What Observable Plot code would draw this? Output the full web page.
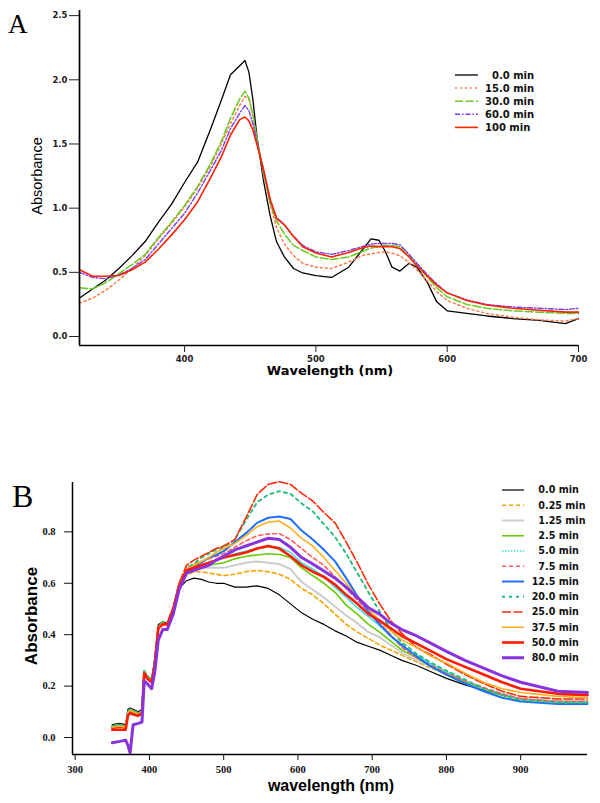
<!DOCTYPE html>
<html><head><meta charset="utf-8">
<script src="https://cdn.jsdelivr.net/npm/d3@7"></script>
<script src="https://cdn.jsdelivr.net/npm/@observablehq/plot@0.6"></script>
<style>
html,body{margin:0;padding:0;background:#fff;}
#page{position:relative;width:600px;height:803px;overflow:hidden;background:#fff;}
#pa{position:absolute;left:0;top:0;}
#pb{position:absolute;left:0;top:470px;}
#ov{position:absolute;left:0;top:0;pointer-events:none;}
#pa text{font-weight:bold;fill:#222;}
#pb text{font-weight:bold;fill:#111;}
</style></head><body>
<div id="page"><div id="pa"></div><div id="pb"></div><svg id="ov" width="600" height="803"></svg></div>
<script>
// ---------- Panel A data ----------
const A_wl = [320,330,340,350,360,370,380,390,400,410,420,428,435,442,446,449,452,455,460,465,470,476,483,490,500,512,525,535,542,548,553,558,564,571,577,585,592,600,615,630,650,670,690,700];
const A_t0   = [0.30,0.37,0.44,0.53,0.63,0.74,0.89,1.03,1.20,1.36,1.62,1.84,2.04,2.11,2.15,2.06,1.85,1.57,1.22,0.95,0.74,0.62,0.53,0.495,0.475,0.46,0.54,0.67,0.76,0.75,0.66,0.54,0.51,0.57,0.54,0.42,0.27,0.20,0.18,0.16,0.14,0.125,0.10,0.14];
const A_t15  = [0.26,0.30,0.36,0.44,0.53,0.63,0.76,0.88,1.01,1.16,1.33,1.50,1.66,1.80,1.87,1.85,1.72,1.55,1.27,1.04,0.85,0.72,0.63,0.57,0.54,0.53,0.58,0.63,0.645,0.655,0.66,0.65,0.63,0.575,0.52,0.43,0.35,0.28,0.22,0.18,0.15,0.13,0.12,0.14];
const A_t30  = [0.38,0.37,0.42,0.49,0.56,0.64,0.77,0.89,1.02,1.17,1.35,1.52,1.70,1.85,1.91,1.86,1.73,1.55,1.28,1.05,0.90,0.80,0.71,0.67,0.62,0.60,0.62,0.66,0.69,0.70,0.71,0.71,0.70,0.64,0.56,0.46,0.38,0.31,0.25,0.22,0.20,0.19,0.18,0.18];
const A_t60  = [0.50,0.46,0.45,0.48,0.53,0.60,0.72,0.84,0.96,1.12,1.30,1.45,1.62,1.74,1.80,1.76,1.66,1.52,1.30,1.07,0.93,0.87,0.78,0.71,0.66,0.64,0.67,0.70,0.72,0.725,0.725,0.725,0.715,0.64,0.57,0.48,0.41,0.34,0.285,0.25,0.23,0.22,0.21,0.22];
const A_t100 = [0.52,0.47,0.47,0.475,0.52,0.58,0.68,0.79,0.91,1.05,1.24,1.40,1.57,1.69,1.71,1.68,1.61,1.50,1.31,1.075,0.92,0.87,0.78,0.70,0.65,0.62,0.655,0.69,0.705,0.70,0.70,0.70,0.685,0.62,0.55,0.47,0.40,0.34,0.28,0.245,0.22,0.205,0.19,0.19];
const A_names = ["\u20070.0 min","15.0 min","30.0 min","60.0 min","100 min"];
const A_xTicks = [400,500,600,700];
const A_yTicks = [0,0.5,1,1.5,2,2.5];

// ---------- Panel B data ----------
const B_wl = [350,360,368,371,374,378,385,390,393,397,403,407,412,418,424,432,440,450,460,470,480,490,500,515,530,545,560,575,590,605,620,635,650,665,680,695,710,725,740,760,780,800,825,850,875,900,950,990];
const B_t0    = [0.05,0.055,0.05,0.11,0.115,0.11,0.10,0.11,0.26,0.24,0.225,0.30,0.44,0.45,0.445,0.50,0.58, 0.61,0.62,0.615,0.605,0.60,0.60,0.585,0.585,0.59,0.58,0.555,0.52,0.485,0.46,0.44,0.415,0.395,0.37,0.355,0.34,0.32,0.30,0.28,0.255,0.23,0.205,0.185,0.165,0.15,0.14,0.14];
const B_t025  = [0.045,0.05,0.045,0.10,0.11,0.105,0.095,0.105,0.255,0.235,0.22,0.29,0.43,0.445,0.44,0.50,0.59, 0.63,0.645,0.645,0.64,0.635,0.63,0.635,0.645,0.65,0.645,0.635,0.615,0.58,0.555,0.52,0.48,0.44,0.41,0.385,0.36,0.34,0.32,0.295,0.27,0.245,0.215,0.19,0.165,0.15,0.14,0.14];
const B_t125  = [0.04,0.045,0.04,0.095,0.105,0.10,0.09,0.10,0.255,0.235,0.22,0.29,0.43,0.445,0.44,0.50,0.59, 0.64,0.655,0.66,0.66,0.66,0.66,0.67,0.68,0.685,0.68,0.675,0.655,0.605,0.575,0.545,0.51,0.475,0.445,0.41,0.39,0.36,0.33,0.30,0.275,0.245,0.215,0.19,0.17,0.15,0.14,0.14];
const B_t25   = [0.045,0.05,0.045,0.10,0.105,0.10,0.095,0.10,0.255,0.235,0.22,0.29,0.43,0.445,0.44,0.50,0.595, 0.645,0.655,0.665,0.67,0.675,0.68,0.695,0.705,0.71,0.715,0.712,0.70,0.66,0.63,0.60,0.565,0.515,0.48,0.44,0.41,0.375,0.34,0.31,0.275,0.25,0.215,0.19,0.165,0.15,0.14,0.14];
const B_t5    = [0.04,0.045,0.04,0.095,0.105,0.10,0.09,0.10,0.255,0.235,0.22,0.29,0.43,0.445,0.44,0.50,0.59, 0.65,0.66,0.67,0.68,0.69,0.70,0.715,0.725,0.735,0.742,0.74,0.72,0.68,0.655,0.625,0.585,0.545,0.505,0.47,0.435,0.395,0.355,0.32,0.285,0.255,0.22,0.19,0.17,0.15,0.14,0.14];
const B_t75   = [0.04,0.045,0.04,0.095,0.105,0.10,0.09,0.10,0.255,0.235,0.22,0.29,0.43,0.445,0.44,0.50,0.595, 0.66,0.675,0.685,0.695,0.705,0.715,0.74,0.765,0.785,0.792,0.793,0.77,0.735,0.70,0.67,0.625,0.58,0.535,0.49,0.445,0.40,0.35,0.31,0.28,0.25,0.22,0.195,0.17,0.15,0.14,0.14];
const B_t12   = [0.04,0.045,0.04,0.095,0.105,0.10,0.09,0.10,0.255,0.235,0.22,0.29,0.43,0.445,0.44,0.50,0.59, 0.65,0.665,0.68,0.70,0.71,0.725,0.76,0.795,0.835,0.855,0.86,0.85,0.805,0.77,0.73,0.685,0.62,0.55,0.49,0.44,0.395,0.36,0.315,0.275,0.245,0.21,0.18,0.155,0.14,0.13,0.13];
const B_t20   = [0.045,0.05,0.045,0.10,0.11,0.105,0.095,0.105,0.26,0.24,0.225,0.295,0.435,0.45,0.445,0.505,0.60, 0.66,0.675,0.70,0.715,0.73,0.74,0.77,0.845,0.915,0.945,0.958,0.948,0.91,0.88,0.83,0.78,0.715,0.64,0.565,0.49,0.42,0.37,0.325,0.29,0.26,0.225,0.19,0.165,0.145,0.135,0.135];
const B_t25r  = [0.035,0.04,0.035,0.09,0.10,0.095,0.085,0.095,0.25,0.23,0.215,0.285,0.43,0.445,0.44,0.50,0.60, 0.67,0.69,0.705,0.72,0.735,0.745,0.77,0.855,0.945,0.985,0.995,0.985,0.95,0.92,0.875,0.835,0.76,0.68,0.595,0.52,0.455,0.405,0.35,0.32,0.285,0.245,0.21,0.18,0.16,0.15,0.15];
const B_t375  = [0.04,0.045,0.04,0.095,0.105,0.10,0.09,0.10,0.255,0.235,0.22,0.29,0.43,0.445,0.44,0.50,0.595, 0.655,0.67,0.685,0.70,0.72,0.735,0.755,0.785,0.82,0.838,0.842,0.815,0.775,0.745,0.70,0.65,0.60,0.545,0.50,0.455,0.415,0.38,0.35,0.315,0.29,0.25,0.215,0.19,0.175,0.16,0.155];
const B_t50   = [0.03,0.03,0.03,0.085,0.095,0.09,0.085,0.095,0.25,0.23,0.215,0.28,0.425,0.44,0.44,0.50,0.59, 0.65,0.66,0.67,0.68,0.69,0.70,0.71,0.72,0.735,0.745,0.735,0.705,0.67,0.645,0.625,0.595,0.555,0.52,0.48,0.455,0.425,0.395,0.365,0.335,0.305,0.275,0.245,0.215,0.19,0.17,0.165];
const B_t80   = [-0.02,-0.015,-0.01,-0.03,-0.06,0.05,0.055,0.06,0.22,0.21,0.19,0.25,0.38,0.42,0.42,0.48,0.575, 0.64,0.65,0.66,0.67,0.69,0.705,0.73,0.745,0.76,0.775,0.77,0.74,0.70,0.675,0.648,0.62,0.585,0.545,0.505,0.48,0.445,0.42,0.395,0.365,0.335,0.30,0.27,0.24,0.215,0.18,0.175];
const B_names = ["\u20070.0 min","\u20070.25 min","\u20071.25 min","\u20072.5 min","\u20075.0 min","\u20077.5 min","12.5 min","20.0 min","25.0 min","37.5 min","50.0 min","80.0 min"];
const B_xTicks = [300,400,500,600,700,800,900];
const B_yTicks = [0,0.2,0.4,0.6,0.8];

// ---------- styles (separate from data) ----------
const A_series = [A_t0, A_t15, A_t30, A_t60, A_t100];
const A_style = [
  {stroke:"#000000", w:1.3, dash:null},
  {stroke:"#ff7a45", w:1.5, dash:"2,3"},
  {stroke:"#66cc22", w:1.5, dash:"8,2.5"},
  {stroke:"#7a3fef", w:1.4, dash:"5,2,1.5,2"},
  {stroke:"#ff2200", w:1.6, dash:null}
];
const B_series = [B_t0,B_t025,B_t125,B_t25,B_t5,B_t75,B_t12,B_t20,B_t25r,B_t375,B_t50,B_t80];
const B_style = [
  {stroke:"#000000", w:1.2, dash:null},
  {stroke:"#f5a300", w:1.6, dash:"4,3"},
  {stroke:"#cccccc", w:2.0, dash:null},
  {stroke:"#66cc00", w:1.6, dash:null},
  {stroke:"#33dde8", w:1.6, dash:"1.5,1.5"},
  {stroke:"#ff5a5a", w:1.6, dash:"4,3"},
  {stroke:"#1f6fff", w:2.0, dash:null},
  {stroke:"#1fbf7a", w:1.9, dash:"3,4"},
  {stroke:"#ff2a0a", w:1.6, dash:"9,2.5"},
  {stroke:"#ffb020", w:1.6, dash:null},
  {stroke:"#ff1a00", w:2.6, dash:null},
  {stroke:"#8833dd", w:3.0, dash:null}
];

function rows(wl, vals){ return wl.map((w,i)=>({wl:w, abs:vals[i]})); }
function lineMarks(wl, series, styles){
  return series.map((s,i)=>Plot.line(rows(wl,s), {x:"wl", y:"abs", stroke:styles[i].stroke, strokeWidth:styles[i].w, strokeDasharray:styles[i].dash || undefined, strokeLinejoin:"round"}));
}

const plotA = Plot.plot({
  width:600, height:380, marginLeft:79, marginRight:22, marginTop:10, marginBottom:35,
  style:{fontFamily:"DejaVu Sans", fontSize:"8.5px", background:"white", color:"#222"},
  x:{domain:[320,700]}, y:{domain:[-0.07,2.54]},
  marks:[
    ...lineMarks(A_wl, A_series, A_style),
    Plot.axisX({ticks:A_xTicks, tickSize:7, tickPadding:3, tickFormat:d=>String(d), label:null}),
    Plot.axisY({ticks:A_yTicks, tickSize:10, tickPadding:2, tickFormat:d3.format(".1f"), label:null}),
    Plot.ruleX([320], {stroke:"#000", strokeWidth:1.7}),
    Plot.ruleY([-0.07], {stroke:"#000", strokeWidth:1.7})
  ]
});
document.getElementById("pa").appendChild(plotA);

const plotB = Plot.plot({
  width:600, height:333, marginLeft:72, marginRight:13, marginTop:12, marginBottom:49,
  style:{fontFamily:"Liberation Serif", fontSize:"10.5px", background:"white", color:"#111"},
  x:{domain:[296.4,990]}, y:{domain:[-0.066,0.992]},
  marks:[
    ...lineMarks(B_wl, B_series, B_style),
    Plot.axisX({ticks:B_xTicks, tickSize:6, tickPadding:5, tickFormat:d=>String(d), label:null}),
    Plot.axisY({ticks:B_yTicks, tickSize:8, tickPadding:9, tickFormat:d3.format(".1f"), label:null}),
    Plot.ruleX([296.4], {stroke:"#000", strokeWidth:1.5}),
    Plot.ruleY([-0.066], {stroke:"#000", strokeWidth:1.5})
  ]
});
document.getElementById("pb").appendChild(plotB);

// ---------- overlay: labels, titles, legends ----------
const ov = d3.select("#ov");
ov.append("text").attr("x",8).attr("y",33).attr("font-family","Liberation Serif").attr("font-size",27).text("A");
ov.append("text").attr("x",12).attr("y",507).attr("font-family","Liberation Serif").attr("font-size",32).text("B");
ov.append("text").attr("x",330).attr("y",374.5).attr("text-anchor","middle").attr("font-family","DejaVu Sans").attr("font-weight","bold").attr("font-size",13).text("Wavelength (nm)");
ov.append("text").attr("transform","translate(41.5,176) rotate(-90)").attr("text-anchor","middle").attr("font-family","Liberation Sans").attr("font-size",14.5).text("Absorbance");
ov.append("text").attr("x",331).attr("y",791).attr("text-anchor","middle").attr("font-family","Liberation Sans").attr("font-weight","bold").attr("font-size",16).text("wavelength (nm)");
ov.append("text").attr("transform","translate(37,616) rotate(-90)").attr("text-anchor","middle").attr("font-family","Liberation Sans").attr("font-weight","bold").attr("font-size",17).text("Absorbance");

function legend(names, styles, x0, x1, tx, y0, dy, fs){
  names.forEach((n,i)=>{
    const y = y0 + i*dy;
    const s = styles[i];
    const l = ov.append("line").attr("x1",x0).attr("x2",x1).attr("y1",y).attr("y2",y)
      .attr("stroke",s.stroke).attr("stroke-width",s.w);
    if (s.dash) l.attr("stroke-dasharray", s.dash);
    ov.append("text").attr("x",tx).attr("y",y).attr("dy","0.36em")
      .attr("font-family","DejaVu Sans").attr("font-weight","bold").attr("font-size",fs).attr("fill","#111").text(n);
  });
}
legend(A_names, A_style, 455, 478, 485, 75, 13.1, 10);
legend(B_names, B_style, 502, 524, 531.7, 490, 15.25, 9.6);
</script>
</body></html>
